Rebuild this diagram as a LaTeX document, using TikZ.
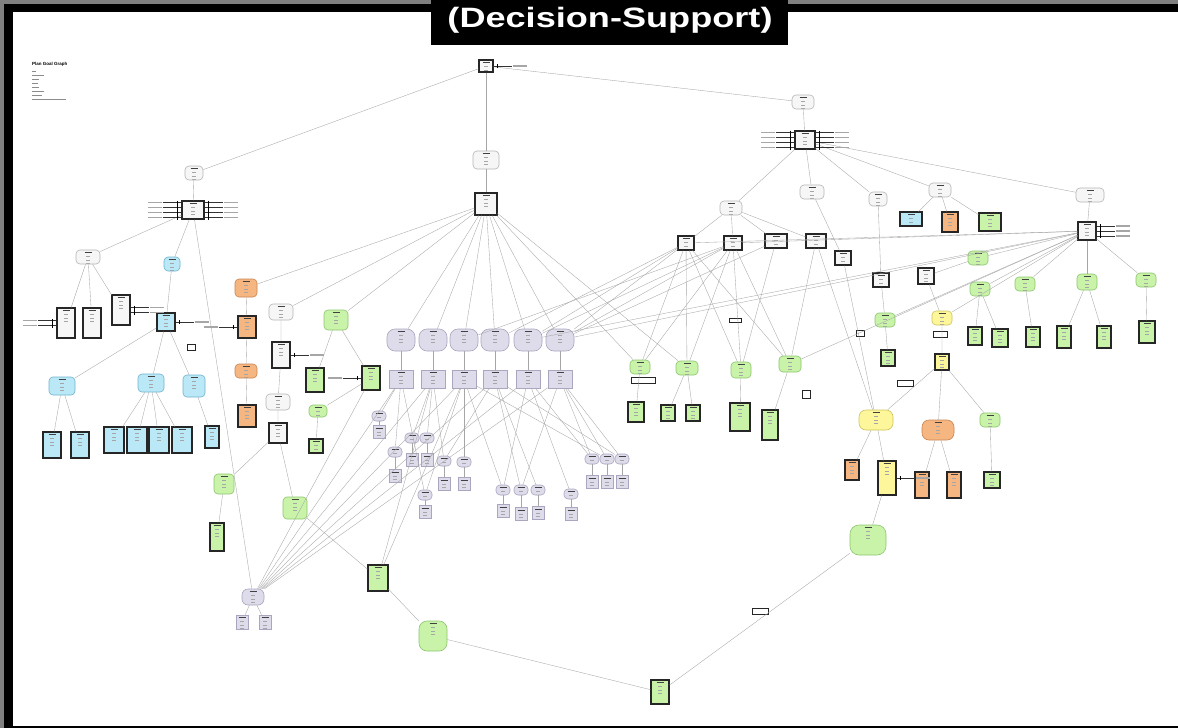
\documentclass[tikz,border=0pt]{standalone}
\usepackage{fontspec}
\setmainfont{Liberation Sans}
\usepackage{xcolor}

\definecolor{gw}{HTML}{F6F6F6}
\definecolor{gwd}{HTML}{B5B5B5}
\definecolor{lv}{HTML}{DEDBEA}
\definecolor{lvd}{HTML}{AAA6C0}
\definecolor{lb}{HTML}{BAE8F6}
\definecolor{lbd}{HTML}{6DB4CE}
\definecolor{gr}{HTML}{C8F3A8}
\definecolor{grd}{HTML}{8DC56F}
\definecolor{og}{HTML}{F6B682}
\definecolor{ogd}{HTML}{C98550}
\definecolor{ye}{HTML}{FDF69A}
\definecolor{yed}{HTML}{CFC45A}

\newcommand\sideports[4]{%
  \foreach \k in {1,...,#3}{%
    \draw[black!80,line width=.3pt] ([yshift={((#3+1)/2-\k)*5pt}]#1.#2) -- ++(#4*18pt,0);
    \draw[black!35,line width=1.1pt] ([xshift=#4*19pt,yshift={((#3+1)/2-\k)*5pt}]#1.#2) -- ++(#4*14pt,0);
  }
  \draw[black,line width=1pt] ([xshift=#4*4pt,yshift={((#3+1)/2-1)*5pt+2pt}]#1.#2) -- ([xshift=#4*4pt,yshift={((#3+1)/2-#3)*5pt-2pt}]#1.#2);
}

\begin{document}
\begin{tikzpicture}[x=1pt,y=-1pt,
    txt/.style={path picture={
        \draw[black!75,line width=.7pt] ([xshift=-3.5pt,yshift=-2.5pt]path picture bounding box.north) -- ++(7pt,0);
        \foreach \k in {1,2,3}{\draw[black!35,line width=.45pt] ([xshift=-2pt,yshift=-3pt-\k*3.5pt]path picture bounding box.north) -- ++(4pt,0);}
      }},
    goal/.style={rounded corners=4pt,fill=#1,draw=#1d,line width=.6pt,inner sep=0pt,txt},
    plan/.style={fill=#1,draw=black!85,line width=1.1pt,inner sep=0pt,txt},
    lplan/.style={fill=lv,draw=lvd,line width=.6pt,inner sep=0pt,txt},
    tag/.style={fill=white,draw=black!85,line width=.7pt,inner sep=0pt},
    sz/.style 2 args={minimum width=#1pt,minimum height=#2pt},
    link/.style={draw=black!35,line width=.35pt}]

\useasboundingbox (0,0) rectangle (1178,728);
\fill[gray] (0,0) rectangle (1178,728);
\fill[black] (4,4) rectangle (1178,728);
\fill[white] (13,12) rectangle (1178,726);

\fill[black] (431,0) rectangle (788,45);
\node[text=white,font=\bfseries\fontsize{28}{30}\selectfont] (title) at (610,20) {\scalebox{1.29}[1]{(Decision-Support)}};

% legend
\node[anchor=west,inner sep=0pt,font=\bfseries\fontsize{4.5}{5}\selectfont] (legend) at (32,64) {Plan Goal Graph};
\foreach \y/\w in {71/4,75/12,79/7,83/6,87/7,91/12,95/10,99/34}
  \draw[black!45,line width=1pt] (32,\y) -- ++(\w,0);

% top
\node[plan=gw,sz={14}{12}] (root) at (486,66) {};
\node[goal=gw,sz={18}{14}] (gL) at (194,173) {};
\node[goal=gw,sz={26}{18}] (gM) at (486,160) {};
\node[goal=gw,sz={22}{14}] (gR) at (803,102) {};
\foreach \t in {gL,gM,gR} \draw[link] (root) -- (\t);

% left branch
\node[plan=gw,sz={22}{18}] (pL) at (193,210) {};
\node[goal=gw,sz={24}{14}] (gLa) at (88,257) {};
\node[goal=lb,sz={16}{14}] (gLb) at (172,264) {};
\node[plan=gw,sz={18}{30}] (pLa1) at (66,323) {};
\node[plan=gw,sz={18}{30}] (pLa2) at (92,323) {};
\node[plan=gw,sz={18}{30}] (pLa3) at (121,310) {};
\node[plan=lb,sz={18}{18}] (pLb) at (166,322) {};
\node[goal=lb,sz={26}{18}] (gLb1) at (62,386) {};
\node[goal=lb,sz={26}{18}] (gLb2) at (151,383) {};
\node[goal=lb,sz={22}{22}] (gLb3) at (194,386) {};
\node[plan=lb,sz={18}{26}] (pLb11) at (52,445) {};
\node[plan=lb,sz={18}{26}] (pLb12) at (80,445) {};
\foreach \x [count=\i] in {114,137,159,182}
  \node[plan=lb,sz={20}{26}] (pLb2\i) at (\x,440) {};
\node[plan=lb,sz={14}{22}] (pLb31) at (212,437) {};
\node[tag,sz={8}{6}] (tL) at (191,347) {};

\draw[link] (gL) -- (pL);
\foreach \t in {gLa,gLb} \draw[link] (pL) -- (\t);
\foreach \t in {pLa1,pLa2,pLa3} \draw[link] (gLa) -- (\t);
\draw[link] (gLb) -- (pLb);
\foreach \t in {gLb1,gLb2,gLb3} \draw[link] (pLb) -- (\t);
\foreach \t in {pLb11,pLb12} \draw[link] (gLb1) -- (\t);
\foreach \t in {pLb21,pLb22,pLb23,pLb24} \draw[link] (gLb2) -- (\t);
\draw[link] (gLb3) -- (pLb31);

\sideports{pL}{west}{4}{-1}
\sideports{pL}{east}{4}{1}
\sideports{pLa1}{west}{2}{-1}
\sideports{pLa3}{east}{2}{1}
\sideports{pLb}{east}{1}{1}
\sideports{root}{east}{1}{1}

% middle branch
\node[plan=gw,sz={22}{22}] (pM) at (486,204) {};
\node[goal=og,sz={22}{18}] (gMo) at (246,288) {};
\node[plan=og,sz={18}{22}] (pMo) at (247,327) {};
\node[goal=og,sz={22}{14}] (gMo2) at (246,371) {};
\node[plan=og,sz={18}{22}] (pMo2) at (247,416) {};
\node[goal=gw,sz={24}{16}] (gMw) at (281,312) {};
\node[plan=gw,sz={18}{26}] (pMw) at (281,355) {};
\node[goal=gw,sz={24}{16}] (gMw2) at (278,402) {};
\node[plan=gw,sz={18}{20}] (pMw2) at (278,433) {};
\node[goal=gr,sz={20}{20}] (gMg3) at (224,484) {};
\node[plan=gr,sz={14}{28}] (pMg3) at (217,537) {};
\node[goal=gr,sz={24}{22}] (gMg4) at (295,508) {};
\node[plan=gr,sz={20}{26}] (pMg4) at (378,578) {};
\node[goal=gr,sz={28}{30},rounded corners=8pt] (gMg5) at (433,636) {};
\node[plan=gr,sz={18}{24}] (pMg5) at (660,692) {};
\node[goal=gr,sz={24}{20}] (gMg) at (336,320) {};
\node[plan=gr,sz={18}{24}] (pMg1) at (315,380) {};
\node[plan=gr,sz={18}{24}] (pMg2) at (371,378) {};
\node[goal=gr,sz={18}{12}] (gMg6) at (318,411) {};
\node[plan=gr,sz={14}{14}] (pMg6) at (316,446) {};

\draw[link] (gM) -- (pM);
\foreach \t in {gMo,gMw,gMg} \draw[link] (pM) -- (\t);
\draw[link] (gMo) -- (pMo) -- (gMo2) -- (pMo2);
\draw[link] (gMw) -- (pMw) -- (gMw2) -- (pMw2) -- (gMg3) -- (pMg3);
\draw[link] (pMw2) -- (gMg4) -- (pMg4) -- (gMg5) -- (pMg5);
\foreach \t in {pMg1,pMg2} \draw[link] (gMg) -- (\t);
\draw[link] (pMg2) -- (gMg6) -- (pMg6);
\sideports{pMo}{west}{1}{-1}
\sideports{pMg2}{west}{1}{-1}
\sideports{pMw}{east}{1}{1}

% lavender cluster
\foreach \x [count=\i] in {401,433,464,495,528,560}{
  \node[goal=lv,sz={28}{22},rounded corners=8pt] (gV\i) at (\x,340) {};
  \node[lplan,sz={24}{18}] (pV\i) at (\x,379) {};
  \draw[link] (pM) -- (gV\i);
  \draw[link] (gV\i) -- (pV\i);
}
\foreach \x/\ya/\yb [count=\i] in {379/416/432,412/438/460,427/438/460,395/452/476,425/495/512,444/461/484,464/462/484,503/490/511,521/490/514,538/490/513,571/494/514,592/459/482,607/459/482,622/459/482}{
  \node[goal=lv,sz={14}{10}] (gU\i) at (\x,\ya) {};
  \node[lplan,sz={12}{13}] (pU\i) at (\x,\yb) {};
  \draw[link] (gU\i) -- (pU\i);
}
\node[goal=lv,sz={22}{16},rounded corners=6pt] (gV7) at (253,597) {};
\node[lplan,sz={12}{14}] (pV71) at (242,622) {};
\node[lplan,sz={12}{14}] (pV72) at (265,622) {};
\foreach \t in {pV71,pV72} \draw[link] (gV7) -- (\t);
\draw[link] (pL) -- (gV7);
\foreach \s/\t in {pV1/gU1,pV1/gU4,pV1/gU5,pV2/gU2,pV2/gU3,pV2/gU6,pV3/gU5,pV3/gU7,pV3/gU8,pV4/gU6,pV4/gU9,pV4/gU10,pV5/gU8,pV5/gU11,pV5/gU12,pV6/gU12,pV6/gU13,pV6/gU14,pV6/gU9,pV3/gU13,pV4/gU14}
  \draw[link] (\s) -- (\t);
\foreach \s in {pV1,pV2,pV3,pV4,pV5,pV6,pMg2} \draw[link] (\s) -- (gV7);
\foreach \s in {pV2,pV3} \draw[link] (\s) -- (pMg4);

% right branch
\node[plan=gw,sz={20}{18}] (pR) at (805,140) {};
\node[goal=gw,sz={22}{14}] (gR1) at (731,208) {};
\node[goal=gw,sz={24}{14}] (gR2) at (812,192) {};
\node[goal=gw,sz={18}{14}] (gR3) at (878,199) {};
\node[goal=gw,sz={22}{14}] (gR4) at (940,190) {};
\node[goal=gw,sz={28}{14}] (gR5) at (1090,195) {};
\node[plan=gw,sz={16}{14}] (pR11) at (686,243) {};
\node[plan=gw,sz={18}{14}] (pR12) at (733,243) {};
\node[plan=gw,sz={22}{14}] (pR13) at (776,241) {};
\node[plan=gw,sz={20}{14}] (pR14) at (816,241) {};
\node[plan=gw,sz={16}{14}] (pR2) at (843,258) {};
\node[plan=gw,sz={16}{14}] (pR3) at (881,280) {};
\node[plan=lb,sz={22}{14}] (pR41) at (911,219) {};
\node[plan=og,sz={16}{20}] (pR42) at (950,222) {};
\node[plan=gr,sz={22}{18}] (pR43) at (990,222) {};
\node[plan=gw,sz={18}{18}] (pR5) at (1087,231) {};
\node[goal=gr,sz={20}{14}] (gR51) at (978,258) {};
\node[goal=gr,sz={20}{14}] (gR52) at (980,289) {};
\node[goal=gr,sz={20}{14}] (gR53) at (1025,284) {};
\node[goal=gr,sz={20}{16}] (gR54) at (1087,282) {};
\node[goal=gr,sz={20}{14}] (gR55) at (1146,280) {};
\node[plan=gr,sz={14}{18}] (pR521) at (975,336) {};
\node[plan=gr,sz={16}{18}] (pR522) at (1000,338) {};
\node[plan=gr,sz={14}{20}] (pR53) at (1033,337) {};
\node[plan=gr,sz={14}{22}] (pR541) at (1064,337) {};
\node[plan=gr,sz={14}{22}] (pR542) at (1104,337) {};
\node[plan=gr,sz={16}{22}] (pR55) at (1147,332) {};
\node[plan=gw,sz={16}{16}] (pR6) at (926,276) {};

\draw[link] (gR) -- (pR);
\foreach \t in {gR1,gR2,gR3,gR4,gR5} \draw[link] (pR) -- (\t);
\foreach \t in {pR11,pR12,pR13,pR14} \draw[link] (gR1) -- (\t);
\draw[link] (gR2) -- (pR2);
\draw[link] (gR3) -- (pR3);
\foreach \t in {pR41,pR42,pR43} \draw[link] (gR4) -- (\t);
\draw[link] (gR5) -- (pR5);
\foreach \t in {gR51,gR52,gR53,gR54,gR55} \draw[link] (pR5) -- (\t);
\draw[link] (gR51) -- (pR6);
\foreach \t in {pR521,pR522} \draw[link] (gR52) -- (\t);
\draw[link] (gR53) -- (pR53);
\foreach \t in {pR541,pR542} \draw[link] (gR54) -- (\t);
\draw[link] (gR55) -- (pR55);
\sideports{pR}{west}{4}{-1}
\sideports{pR}{east}{4}{1}
\sideports{pR5}{east}{3}{1}

% green / yellow / orange under the right branch
\node[goal=gr,sz={20}{14}] (gR11) at (640,367) {};
\node[plan=gr,sz={16}{20}] (pR111) at (636,412) {};
\node[tag,sz={24}{6}] (tR11) at (643,380) {};
\node[goal=gr,sz={22}{14}] (gR12) at (687,368) {};
\node[plan=gr,sz={14}{16}] (pR121) at (668,413) {};
\node[plan=gr,sz={14}{16}] (pR122) at (693,413) {};
\node[goal=gr,sz={20}{16}] (gR13) at (741,370) {};
\node[plan=gr,sz={20}{28}] (pR131) at (740,417) {};
\node[goal=gr,sz={22}{16}] (gR14) at (790,364) {};
\node[plan=gr,sz={16}{30}] (pR141) at (770,425) {};
\node[tag,sz={8}{8}] (tR14) at (806,394) {};
\node[goal=gr,sz={20}{14}] (gR15) at (885,320) {};
\node[plan=gr,sz={14}{16}] (pR151) at (888,358) {};
\node[goal=ye,sz={20}{14}] (gY) at (942,318) {};
\node[plan=ye,sz={14}{16}] (pY) at (942,362) {};
\node[goal=ye,sz={34}{20},rounded corners=7pt] (gY2) at (876,420) {};
\node[plan=og,sz={14}{20}] (pY1) at (852,470) {};
\node[plan=ye,sz={18}{34}] (pY2) at (887,478) {};
\node[goal=og,sz={32}{20},rounded corners=7pt] (gO) at (938,430) {};
\node[plan=og,sz={14}{26}] (pO1) at (922,485) {};
\node[plan=og,sz={14}{26}] (pO2) at (954,485) {};
\node[goal=gr,sz={20}{14}] (gG) at (990,420) {};
\node[plan=gr,sz={16}{16}] (pG) at (992,480) {};
\node[goal=gr,sz={36}{30},rounded corners=9pt] (gG2) at (868,540) {};
\node[tag,sz={12}{4}] (t1) at (735,320) {};
\node[tag,sz={8}{6}] (t2) at (860,333) {};
\node[tag,sz={16}{6}] (t3) at (905,383) {};
\node[tag,sz={14}{6}] (t4) at (940,334) {};
\node[tag,sz={16}{6}] (t5) at (760,611) {};

\foreach \t in {gR11,gR12,gR13} \draw[link] (pR11) -- (\t);
\foreach \t in {gR12,gR13,gR14} \draw[link] (pR12) -- (\t);
\draw[link] (pR13) -- (gR13);
\draw[link] (pR14) -- (gR14);
\draw[link] (gR11) -- (pR111);
\foreach \t in {pR121,pR122} \draw[link] (gR12) -- (\t);
\draw[link] (gR13) -- (pR131);
\draw[link] (gR14) -- (pR141);
\draw[link] (pR3) -- (gR15) -- (pR151);
\draw[link] (pR2) -- (gY2);
\draw[link] (pR6) -- (gY) -- (pY) -- (gY2);
\foreach \t in {pY1,pY2} \draw[link] (gY2) -- (\t);
\foreach \t in {gO,gG} \draw[link] (pY) -- (\t);
\foreach \t in {pO1,pO2} \draw[link] (gO) -- (\t);
\draw[link] (gG) -- (pG);
\draw[link] (pY2) -- (gG2) -- (pMg5);
\sideports{pY2}{east}{1}{1}

% cross links
\foreach \s/\t in {pR11/gV4,pR11/gV5,pR11/gV6,pR12/gV5,pR12/gV6,pR12/gV3,pR13/gV6,pR5/gV6,pR5/gV5,pR5/pR11,pR5/pR12,pR5/gR14,pR5/gY,pR5/gR15,pR14/gY2,pM/gR11,pM/gR12,pR11/gR14,pR12/gR11}
  \draw[link] (\s) -- (\t);
\end{tikzpicture}
\end{document}
